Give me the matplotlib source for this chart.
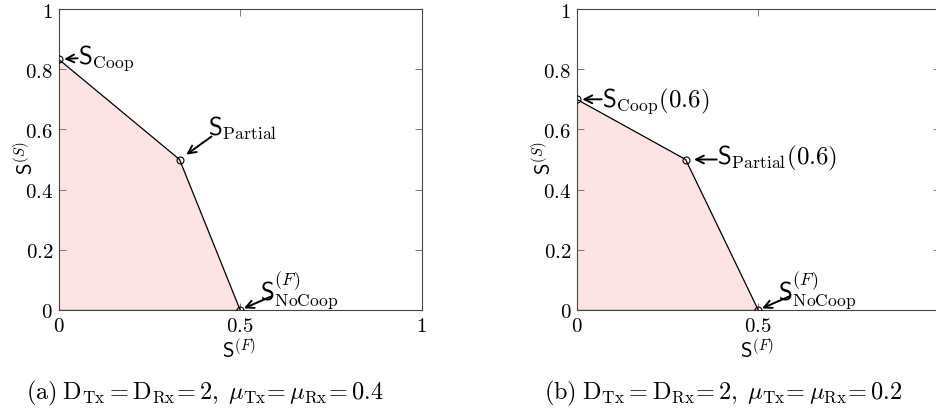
import numpy as np
import matplotlib
matplotlib.use('Agg')
import matplotlib.pyplot as plt

plt.rcParams['mathtext.fontset'] = 'cm'
plt.rcParams['font.family'] = ['DejaVu Serif']

# corner points of the rate regions: Coop, Partial, NoCoop
sf_a = [0.0, 0.333, 0.5]
ss_a = [0.833, 0.5, 0.0]
sf_b = [0.0, 0.3, 0.5]
ss_b = [0.7, 0.5, 0.0]

xticks = [0, 0.5, 1]
yticks = [0, 0.2, 0.4, 0.6, 0.8, 1]

labels_a = [r'$\mathsf{S}_{\mathrm{Coop}}$',
            r'$\mathsf{S}_{\mathrm{Partial}}$',
            r'$\mathsf{S}^{(F)}_{\mathrm{NoCoop}}$']
labels_b = [r'$\mathsf{S}_{\mathrm{Coop}}(0.6)$',
            r'$\mathsf{S}_{\mathrm{Partial}}(0.6)$',
            r'$\mathsf{S}^{(F)}_{\mathrm{NoCoop}}$']

caption_a = r'$(\mathrm{a})\;\mathrm{D}_{\mathrm{Tx}}=\mathrm{D}_{\mathrm{Rx}}\!=2,\;\mu_{\mathrm{Tx}}\!=\mu_{\mathrm{Rx}}\!=0.4$'
caption_b = r'$(\mathrm{b})\;\mathrm{D}_{\mathrm{Tx}}=\mathrm{D}_{\mathrm{Rx}}\!=2,\;\mu_{\mathrm{Tx}}\!=\mu_{\mathrm{Rx}}\!=0.2$'

fill_col = '#fde4e4'
frame_col = '#444444'

fig = plt.figure(figsize=(9.37, 4.14), dpi=100)
ax_a = fig.add_axes([0.0626, 0.2488, 0.3874, 0.727])
ax_b = fig.add_axes([0.6155, 0.2488, 0.3874, 0.727])


def tick_fmt(v):
    return '$%g$' % v


def draw_panel(ax, sf, ss, labels, text_off, arrow_off, shrink):
    xs = [0] + sf
    ys = [0] + ss
    ax.fill(xs, ys, color=fill_col, lw=0, zorder=1)
    ax.plot(sf, ss, color='black', lw=0.9, zorder=2)
    ax.plot([0, sf[-1]], [0, 0], color='black', lw=0.9, zorder=2)
    ax.plot(sf, ss, 'o', ms=5, mfc='none', mec='black', mew=0.8, zorder=3)

    for i in range(3):
        ax.annotate('', xy=(sf[i], ss[i]), xytext=arrow_off[i],
                    textcoords='offset pixels',
                    arrowprops=dict(arrowstyle='->', lw=1.4, color='black',
                                    shrinkA=0, shrinkB=shrink[i],
                                    mutation_scale=14),
                    zorder=4, annotation_clip=False)
        ax.annotate(labels[i], xy=(sf[i], ss[i]), xytext=text_off[i],
                    textcoords='offset pixels', ha='left', va='baseline',
                    fontsize=18, zorder=4, annotation_clip=False)

    ax.set_xlim(0, 1)
    ax.set_ylim(0, 1)
    ax.set_xticks(xticks)
    ax.set_xticklabels([tick_fmt(v) for v in xticks])
    ax.set_yticks(yticks)
    ax.set_yticklabels([tick_fmt(v) for v in yticks])
    ax.tick_params(direction='in', length=5, width=0.6, color='#666666',
                   top=True, right=True, labelsize=15, pad=4)
    for s in ax.spines.values():
        s.set_color(frame_col)
        s.set_linewidth(0.8)

    ax.set_xlabel(r'$\mathsf{S}^{(F)}$', fontsize=15, va='center')
    ax.xaxis.set_label_coords(0.497, -0.128)
    ax.set_ylabel(r'$\mathsf{S}^{(S)}$', fontsize=15, va='center')
    ax.yaxis.set_label_coords(-0.093, 0.508)


draw_panel(ax_a, sf_a, ss_a, labels_a,
           text_off=[(19, -3), (28, 25), (20, 11)],
           arrow_off=[(19, 1), (32, 23), (32, 14)],
           shrink=[4, 6, 3])
draw_panel(ax_b, sf_b, ss_b, labels_b,
           text_off=[(25, -6), (31, -4), (20, 11)],
           arrow_off=[(25, 0), (31, 0), (32, 14)],
           shrink=[4, 6, 3])

fig.text(205 / 937, 1 - 393 / 414, caption_a, ha='center', va='center', fontsize=17.5)
fig.text(723 / 937, 1 - 393 / 414, caption_b, ha='center', va='center', fontsize=17.5)

fig.savefig('out.png', dpi=100)
